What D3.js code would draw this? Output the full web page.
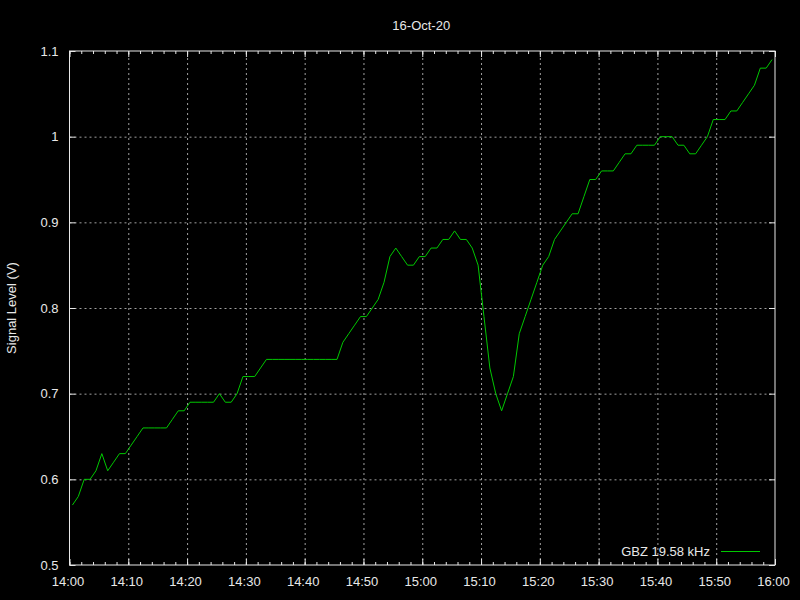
<!DOCTYPE html>
<html>
<head>
<meta charset="utf-8">
<script src="https://cdn.jsdelivr.net/npm/d3@7"></script>
<style>
body { margin:0; background:#000; }
svg { display:block; font-family:"Liberation Sans", Arial, sans-serif; }
</style>
</head>
<body>
<svg id="chart" width="800" height="600"></svg>
<script>
var chartTitle = "16-Oct-20", yLabel = "Signal Level (V)", seriesName = "GBZ 19.58 kHz";

// sample times (one reading per minute)
var times = [
 "14:00:30","14:01:30","14:02:30","14:03:30","14:04:30","14:05:30","14:06:30","14:07:30","14:08:30","14:09:30",
 "14:10:30","14:11:30","14:12:30","14:13:30","14:14:30","14:15:30","14:16:30","14:17:30","14:18:30","14:19:30",
 "14:20:30","14:21:30","14:22:30","14:23:30","14:24:30","14:25:30","14:26:30","14:27:30","14:28:30","14:29:30",
 "14:30:30","14:31:30","14:32:30","14:33:30","14:34:30","14:35:30","14:36:30","14:37:30","14:38:30","14:39:30",
 "14:40:30","14:41:30","14:42:30","14:43:30","14:44:30","14:45:30","14:46:30","14:47:30","14:48:30","14:49:30",
 "14:50:30","14:51:30","14:52:30","14:53:30","14:54:30","14:55:30","14:56:30","14:57:30","14:58:30","14:59:30",
 "15:00:30","15:01:30","15:02:30","15:03:30","15:04:30","15:05:30","15:06:30","15:07:30","15:08:30","15:09:30",
 "15:10:30","15:11:30","15:12:30","15:13:30","15:14:30","15:15:30","15:16:30","15:17:30","15:18:30","15:19:30",
 "15:20:30","15:21:30","15:22:30","15:23:30","15:24:30","15:25:30","15:26:30","15:27:30","15:28:30","15:29:30",
 "15:30:30","15:31:30","15:32:30","15:33:30","15:34:30","15:35:30","15:36:30","15:37:30","15:38:30","15:39:30",
 "15:40:30","15:41:30","15:42:30","15:43:30","15:44:30","15:45:30","15:46:30","15:47:30","15:48:30","15:49:30",
 "15:50:30","15:51:30","15:52:30","15:53:30","15:54:30","15:55:30","15:56:30","15:57:30","15:58:30","15:59:30"
];

// signal level, volts
var levels = [
 0.57,0.58,0.60,0.60,0.61,0.63,0.61,0.62,0.63,0.63,
 0.64,0.65,0.66,0.66,0.66,0.66,0.66,0.67,0.68,0.68,
 0.69,0.69,0.69,0.69,0.69,0.70,0.69,0.69,0.70,0.72,
 0.72,0.72,0.73,0.74,0.74,0.74,0.74,0.74,0.74,0.74,
 0.74,0.74,0.74,0.74,0.74,0.74,0.76,0.77,0.78,0.79,
 0.79,0.80,0.81,0.83,0.86,0.87,0.86,0.85,0.85,0.86,
 0.86,0.87,0.87,0.88,0.88,0.89,0.88,0.88,0.87,0.85,
 0.79,0.73,0.70,0.68,0.70,0.72,0.77,0.79,0.81,0.83,
 0.85,0.86,0.88,0.89,0.90,0.91,0.91,0.93,0.95,0.95,
 0.96,0.96,0.96,0.97,0.98,0.98,0.99,0.99,0.99,0.99,
 1.00,1.00,1.00,0.99,0.99,0.98,0.98,0.99,1.00,1.02,
 1.02,1.02,1.03,1.03,1.04,1.05,1.06,1.08,1.08,1.09
];

var xRange = ["14:00:00", "16:00:00"];
var yTicks = [0.5, 0.6, 0.7, 0.8, 0.9, 1.0, 1.1];

var parseT = d3.timeParse("%H:%M:%S");
var svg = d3.select("#chart");
// plot box (window.top is reserved, so pL/pR/pT/pB)
var pL = 69.5, pR = 775, pT = 51, pB = 565;
var fg = "#e8e8e8", gridCol = "#a0a0a0", lineCol = "#00c800";

svg.append("rect").attr("width", 800).attr("height", 600).attr("fill", "#000");

var x = d3.scaleTime().domain(xRange.map(parseT)).range([pL, pR]);
var y = d3.scaleLinear().domain([yTicks[0], yTicks[yTicks.length - 1]]).range([pB, pT]);

var tenMin = d3.timeMinute.every(10), twoMin = d3.timeMinute.every(2);

/*
    grid
*/
svg.append("g").attr("class", "grid")
    .attr("transform", "translate(0," + pB + ")")
    .call(d3.axisBottom(x).ticks(tenMin).tickSize(-(pB - pT)).tickFormat(""))
    .call(g => g.select(".domain").remove())
    .call(g => g.selectAll(".tick").filter((d, i, n) => i == 0 || i == n.length - 1).remove());
svg.append("g").attr("class", "grid")
    .attr("transform", "translate(" + pL + ",0)")
    .call(d3.axisLeft(y).tickValues(yTicks).tickSize(-(pR - pL)).tickFormat(""))
    .call(g => g.select(".domain").remove())
    .call(g => g.selectAll(".tick").filter((d, i, n) => i == 0 || i == n.length - 1).remove());
svg.selectAll(".grid line")
    .attr("stroke", gridCol)
    .attr("stroke-width", 1)
    .attr("stroke-dasharray", "2,3");

/*
    axes, ticks pointing inward + mirrored
*/
function styleAxis(g){
    g.select(".domain").remove()
    g.selectAll(".tick line").attr("stroke", fg).attr("stroke-width", 1)
    g.selectAll("text").attr("fill", fg).style("font-size", "13px").style("font-family", "'Liberation Sans', Arial, sans-serif")
}

svg.append("g")
    .attr("transform", "translate(0," + pB + ")")
    .call(d3.axisBottom(x).ticks(tenMin).tickSize(-6).tickPadding(12).tickFormat(d3.timeFormat("%H:%M")))
    .call(styleAxis)
    .call(g => g.selectAll("text").attr("dx", -2));
svg.append("g")
    .attr("transform", "translate(0," + pB + ")")
    .call(d3.axisBottom(x).ticks(twoMin).tickSize(-3).tickFormat(""))
    .call(styleAxis);
svg.append("g")
    .attr("transform", "translate(0," + pT + ")")
    .call(d3.axisTop(x).ticks(tenMin).tickSize(-6).tickFormat(""))
    .call(styleAxis);
svg.append("g")
    .attr("transform", "translate(0," + pT + ")")
    .call(d3.axisTop(x).ticks(twoMin).tickSize(-3).tickFormat(""))
    .call(styleAxis);
svg.append("g")
    .attr("transform", "translate(" + pL + ",0)")
    .call(d3.axisLeft(y).tickValues(yTicks).tickSize(-6).tickPadding(11).tickFormat(d3.format("~g")))
    .call(styleAxis);
svg.append("g")
    .attr("transform", "translate(" + pR + ",0)")
    .call(d3.axisRight(y).tickValues(yTicks).tickSize(-6).tickFormat(""))
    .call(styleAxis);

// frame
svg.append("rect")
    .attr("x", pL).attr("y", pT)
    .attr("width", pR - pL).attr("height", pB - pT)
    .attr("fill", "none").attr("stroke", fg).attr("stroke-width", 1);

/*
    data line
*/
var pts = times.map((t, i) => [parseT(t), levels[i]]);
svg.append("path")
    .datum(pts)
    .attr("fill", "none")
    .attr("stroke", lineCol)
    .attr("stroke-width", 1)
    .attr("d", d3.line().x(d => x(d[0])).y(d => y(d[1])));

/*
    labels
*/
svg.append("text").text(chartTitle)
    .attr("x", (pL + pR) / 2 - 1).attr("y", 30)
    .attr("text-anchor", "middle").attr("fill", fg).style("font-size", "13px");

svg.append("text").text(yLabel)
    .attr("transform", "translate(16," + (pB + pT) / 2 + ") rotate(-90)")
    .attr("text-anchor", "middle").attr("fill", fg).style("font-size", "13px");

// key
svg.append("text").text(seriesName)
    .attr("x", 710).attr("y", 556)
    .attr("text-anchor", "end").attr("fill", fg).style("font-size", "13px");
svg.append("line")
    .attr("x1", 721).attr("x2", 760).attr("y1", 551.5).attr("y2", 551.5)
    .attr("stroke", lineCol).attr("stroke-width", 1);
</script>
</body>
</html>
